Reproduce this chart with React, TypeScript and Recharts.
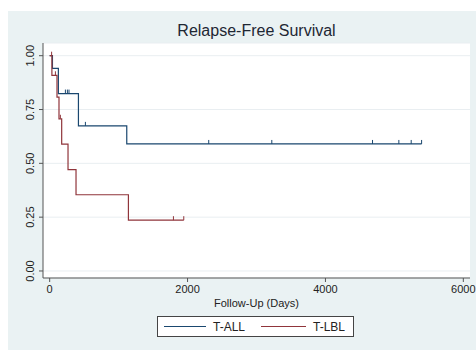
import { ComposedChart, Line, Scatter, XAxis, YAxis, CartesianGrid } from "recharts";

// Kaplan-Meier steps (days, survival)
const ALL_TIMES = [0, 40, 126, 417, 1118, 5395];
const ALL_SURV = [1, 0.941, 0.824, 0.674, 0.59, 0.59];
const ALL_CENSORED = [228, 257, 280, 518, 2307, 3222, 4683, 5065, 5244, 5395];

const LBL_TIMES = [0, 32, 106, 135, 174, 266, 382, 1142, 1945];
const LBL_SURV = [1, 0.909, 0.808, 0.707, 0.589, 0.471, 0.354, 0.236, 0.236];
const LBL_CENSORED = [28, 83, 155, 1795, 1945];

const X_TICKS = [0, 2000, 4000, 6000];
const Y_TICKS = [0, 0.25, 0.5, 0.75, 1];

const NAVY = "#1a476f";
const MAROON = "#90353b";
const BG = "#eaf2f3";
const FONT = "'Liberation Sans', Arial, Helvetica, sans-serif";

const W = 468;
const H = 339;

function steps(times: number[], surv: number[]) {
  return times.map((t, i) => ({ t, s: surv[i] }));
}

// level of the step curve at a censoring time
function marks(censored: number[], times: number[], surv: number[]) {
  return censored.map((t) => {
    let s = surv[0];
    times.forEach((tt, i) => {
      if (tt <= t) s = surv[i];
    });
    return { t, s };
  });
}

const allRows = steps(ALL_TIMES, ALL_SURV);
const lblRows = steps(LBL_TIMES, LBL_SURV);
const allMarks = marks(ALL_CENSORED, ALL_TIMES, ALL_SURV);
const lblMarks = marks(LBL_CENSORED, LBL_TIMES, LBL_SURV);

function tickShape(color: string) {
  return (p: any) => (
    <line x1={p.cx} x2={p.cx} y1={p.cy} y2={p.cy - 4} stroke={color} strokeWidth={1} />
  );
}

function YTick({ x, y, payload }: any) {
  return (
    <text
      transform={`translate(${x - 3},${y}) rotate(-90)`}
      textAnchor="middle"
      fontSize={11}
      fill="#222"
      fontFamily={FONT}
    >
      {Number(payload.value).toFixed(2)}
    </text>
  );
}

export default function App() {
  return (
    <div
      style={{
        position: "absolute",
        left: 8,
        top: 11,
        width: W,
        height: H,
        background: BG,
        fontFamily: FONT,
      }}
    >
      <div
        style={{
          position: "absolute",
          left: 35,
          width: 427,
          top: 11,
          textAlign: "center",
          fontSize: 16,
          color: "#1e2733",
          lineHeight: "18px",
        }}
      >
        Relapse-Free Survival
      </div>
      <ComposedChart width={W} height={H} margin={{ top: 32, right: 6, bottom: 0, left: 0 }}>
        <CartesianGrid vertical={false} stroke="#e9eef1" fill="#ffffff" />
        <XAxis
          type="number"
          dataKey="t"
          domain={[-97, 6097]}
          ticks={X_TICKS}
          allowDataOverflow
          height={72}
          tickSize={4}
          tickMargin={3}
          stroke="#555"
          tick={{ fontSize: 11, fill: "#222", fontFamily: FONT }}
        />
        <YAxis
          type="number"
          dataKey="s"
          domain={[-0.0326, 1.059]}
          ticks={Y_TICKS}
          allowDataOverflow
          width={35}
          tickSize={4}
          tickMargin={2}
          stroke="#555"
          tick={<YTick />}
        />
        <Line
          data={allRows}
          dataKey="s"
          type="stepAfter"
          stroke={NAVY}
          strokeWidth={1.2}
          dot={false}
          isAnimationActive={false}
        />
        <Line
          data={lblRows}
          dataKey="s"
          type="stepAfter"
          stroke={MAROON}
          strokeWidth={1.2}
          dot={false}
          isAnimationActive={false}
        />
        <Scatter data={allMarks} dataKey="s" shape={tickShape(NAVY)} isAnimationActive={false} />
        <Scatter data={lblMarks} dataKey="s" shape={tickShape(MAROON)} isAnimationActive={false} />
      </ComposedChart>
      <div
        style={{
          position: "absolute",
          left: 35,
          width: 427,
          top: 286,
          textAlign: "center",
          fontSize: 11,
          color: "#222",
          lineHeight: "13px",
        }}
      >
        Follow-Up (Days)
      </div>
      <div
        style={{
          position: "absolute",
          left: 149,
          top: 305,
          width: 195,
          height: 19,
          background: "#fff",
          border: "1px solid #444",
          display: "flex",
          alignItems: "center",
          fontSize: 12,
          color: "#222",
        }}
      >
        <span style={{ marginLeft: 6, width: 42, height: 1, background: NAVY }} />
        <span style={{ marginLeft: 7 }}>T-ALL</span>
        <span style={{ marginLeft: 16, width: 45, height: 1, background: MAROON }} />
        <span style={{ marginLeft: 7 }}>T-LBL</span>
      </div>
    </div>
  );
}
